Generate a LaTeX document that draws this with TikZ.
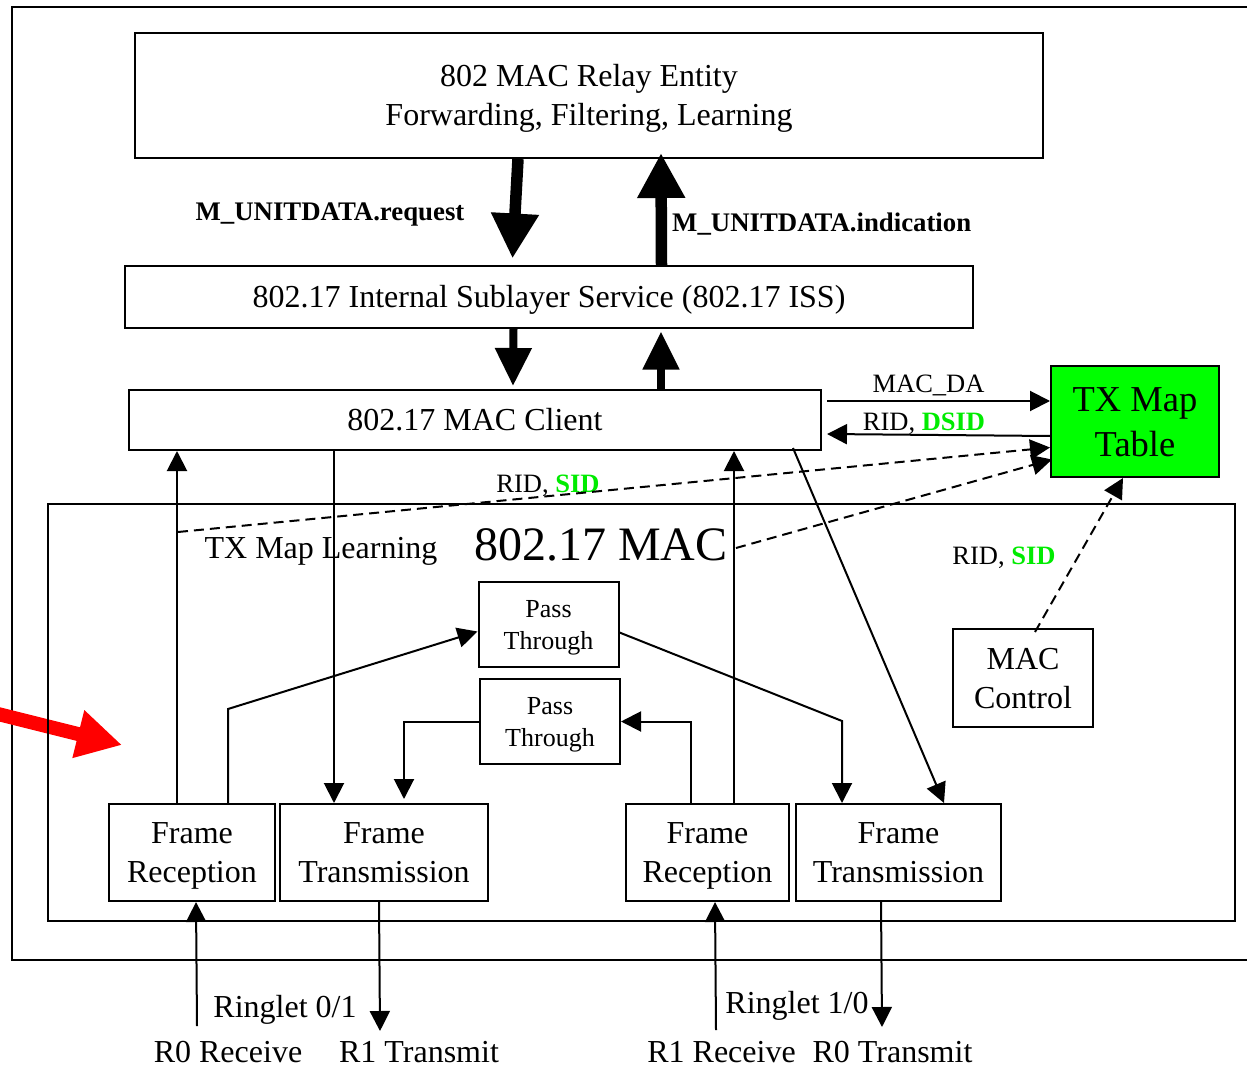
\documentclass[tikz,border=0pt]{standalone}
\usepackage{fontspec}
\setmainfont{Liberation Serif}
\usetikzlibrary{arrows.meta}
\definecolor{mapgreen}{RGB}{0,255,0}
\definecolor{sidgreen}{RGB}{0,235,0}
\newcommand\fsz[2]{\fontsize{#1}{#2}\selectfont}
% struts giving every box line the full ascent and descent of the font
\newcommand\tstrut{\rule{0pt}{0.891em}}
\newcommand\bstrut{\rule[-0.216em]{0pt}{0pt}}
\begin{document}
\begin{tikzpicture}[x=1pt,y=-1pt,
  box/.style={draw, line width=2pt, inner sep=0pt, align=center, font=\fsz{32}{39}},
  txt/.style={inner sep=0pt, anchor=base, font=\fsz{32}{39}},
  lbl/.style={inner sep=0pt, anchor=base, font=\fsz{26.5}{32}},
  arr/.style={line width=2pt, -{Triangle[length=20pt,width=20pt]}},
  dasharr/.style={arr, dash pattern=on 10pt off 6pt},
  bigarr/.style={line width=11.5pt, -{Triangle[length=45pt,width=45pt]}},
  smallarr/.style={line width=8pt, -{Triangle[length=38pt,width=35pt]}},
]
\useasboundingbox (0,0) rectangle (1247,1067);

% outer frame, open to the right
\draw[line width=2pt] (1247,7) -- (12,7) -- (12,960) -- (1247,960);

% red pointer
\draw[red, line width=14pt, -{Triangle[length=45pt,width=46pt]}] (-10,712) -- (122,745);

% boxes
\node[box, minimum width=908pt, minimum height=125pt] (relay) at (589,95.5)
  {\tstrut 802 MAC Relay Entity\\Forwarding, Filtering, Learning\bstrut};
\node[box, minimum width=848pt, minimum height=61pt] (iss) at (549,297)
  {\tstrut 802.17 Internal Sublayer Service (802.17 ISS)\bstrut};
\node[box, minimum width=692pt, minimum height=60pt] (client) at (475,420)
  {\tstrut 802.17 MAC Client\bstrut};
\node[box, fill=mapgreen, minimum width=168pt, minimum height=111pt,
  font=\fsz{36.5}{45}] (txmap) at (1135,421.5) {\tstrut TX Map\\Table\bstrut};
\node[draw, line width=2pt, minimum width=1187pt, minimum height=417pt] (mac) at (641.5,712.5) {};
\node[box, minimum width=140pt, minimum height=85pt, font=\fsz{26}{32}] (pt1)
  at (548.5,624.5) {\tstrut Pass\\Through\bstrut};
\node[box, minimum width=140pt, minimum height=85pt, font=\fsz{26}{32}] (pt2)
  at (550,721.5) {\tstrut Pass\\Through\bstrut};
\node[box, minimum width=140pt, minimum height=98pt] (ctl) at (1023,678)
  {\tstrut MAC\\Control\bstrut};
\node[box, minimum width=166pt, minimum height=97pt] (recL) at (192,852.5)
  {\tstrut Frame\\Reception\bstrut};
\node[box, minimum width=208pt, minimum height=97pt] (txL) at (384,852.5)
  {\tstrut Frame\\Transmission\bstrut};
\node[box, minimum width=163pt, minimum height=97pt] (recR) at (707.5,852.5)
  {\tstrut Frame\\Reception\bstrut};
\node[box, minimum width=205pt, minimum height=97pt] (txR) at (898.5,852.5)
  {\tstrut Frame\\Transmission\bstrut};

% titles and labels
\node[txt] (learn) at (321,558) {TX Map Learning};
\node[txt, font=\fsz{48}{58}] (mactitle) at (601,560) {802.17 MAC};
\node[lbl, font={\fsz{26.8}{32}\bfseries}] (req) at (330,221) {M\_UNITDATA.request};
\node[lbl, anchor=base west, font={\fsz{26.8}{32}\bfseries}] (ind) at (672,232) {M\_UNITDATA.indication};
\node[lbl] (mda) at (928.5,392) {MAC\_DA};
\node[lbl] (rdsid) at (924,430) {RID, \textcolor{sidgreen}{\textbf{DSID}}};
\node[lbl] (rsidA) at (548,492) {RID, \textcolor{sidgreen}{\textbf{SID}}};
\node[lbl] (rsidB) at (1004,564) {RID, \textcolor{sidgreen}{\textbf{SID}}};
\node[txt] (ringA) at (285,1017) {Ringlet 0/1};
\node[txt] (r0rxl) at (228,1062) {R0 Receive};
\node[txt] (r1txl) at (419,1062) {R1 Transmit};
\node[txt] (ringB) at (797,1013) {Ringlet 1/0};
\node[txt] (r1rxl) at (721.5,1062) {R1 Receive};
\node[txt] (r0txl) at (892.5,1062) {R0 Transmit};

% service primitives
\draw[bigarr] ([xshift=-71pt]relay.south) -- ([xshift=-36.5pt,yshift=7pt]iss.north);
\draw[bigarr] ([xshift=112.5pt]iss.north) -- ([xshift=72pt,yshift=6pt]relay.south);
\draw[smallarr] ([xshift=-35.5pt]iss.south) -- ([xshift=38pt,yshift=3pt]client.north);
\draw[smallarr] ([xshift=186pt]client.north) -- ([xshift=112pt,yshift=-3pt]iss.south);

% client and map table
\draw[arr] ([xshift=5pt,yshift=19pt]client.east) -- ([yshift=20.5pt]txmap.west);
\draw[arr] ([yshift=-14.5pt]txmap.west) -- ([xshift=5pt,yshift=-14pt]client.east);
\coordinate (learnA) at (178,532);
\coordinate (learnB) at (736,548);
\draw[dasharr] (learnA) -- ([yshift=-26pt]txmap.west);
\draw[dasharr] (learnB) -- ([xshift=2pt,yshift=-38pt]txmap.west);
\draw[dasharr] ([xshift=12pt,yshift=-4pt]ctl.north) -- ([xshift=-12pt]txmap.south);

% data paths inside the MAC
\draw[arr] ([xshift=69pt]recL.north west) -- ([xshift=49pt]client.south west);
\draw[arr] ([xshift=206pt]client.south west) -- ([xshift=55pt]txL.north west);
\draw[arr] ([xshift=120pt]recL.north west) -- ++(0,-94) -- ([yshift=-7pt]pt1.west);
\draw[arr] (pt2.west) -| ([xshift=125pt,yshift=4pt]txL.north west);
\draw[arr] ([xshift=66pt]recR.north west) |- (pt2.east);
\draw[arr] ([xshift=109pt]recR.north west) -- ([xshift=606pt]client.south west);
\draw[arr] ([yshift=-8pt]pt1.east) -- ([xshift=47pt,yshift=82pt]txR.north west)
  -- ([xshift=47pt]txR.north west);
\draw[arr] ([xshift=-29pt,yshift=3pt]client.south east) -- ([xshift=149pt]txR.north west);

% ringlet connections
\coordinate (r0rx) at (197,1026);
\coordinate (r1tx) at (380,1031);
\coordinate (r1rx) at (716,1030);
\coordinate (r0tx) at (882,1027);
\draw[arr] (r0rx) -- ([xshift=88pt]recL.south west);
\draw[arr] ([xshift=100pt]txL.south west) -- (r1tx);
\draw[arr] (r1rx) -- ([xshift=90pt]recR.south west);
\draw[arr] ([xshift=86pt]txR.south west) -- (r0tx);
\end{tikzpicture}
\end{document}
